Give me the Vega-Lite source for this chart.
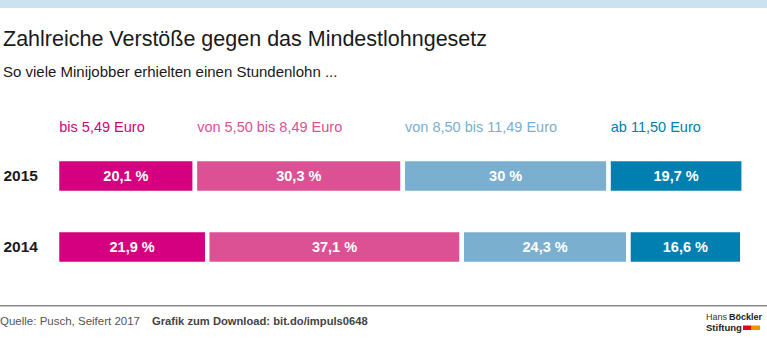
{
  "$schema": "https://vega.github.io/schema/vega-lite/v6.json",
  "width": 767,
  "height": 258,
  "autosize": "none",
  "padding": {"left": 0, "top": 100, "right": 0, "bottom": 0},
  "background": "white",
  "config": {"view": {"stroke": null}, "font": "Liberation Sans"},
  "title": {
    "text": "Zahlreiche Verstöße gegen das Mindestlohngesetz",
    "subtitle": "So viele Minijobber erhielten einen Stundenlohn ...",
    "anchor": "start",
    "frame": "group",
    "dx": 3,
    "offset": -80,
    "font": "Liberation Sans",
    "fontSize": 21.5,
    "fontWeight": "normal",
    "color": "#1a1a1a",
    "subtitleFont": "Liberation Sans",
    "subtitleFontSize": 15,
    "subtitleColor": "#1a1a1a",
    "subtitlePadding": 15
  },
  "datasets": {
    "shares": [
      {"year": "2015", "cat": "bis 5,49 Euro", "order": 1, "value": 20.1, "label": "20,1 %"},
      {"year": "2015", "cat": "von 5,50 bis 8,49 Euro", "order": 2, "value": 30.3, "label": "30,3 %"},
      {"year": "2015", "cat": "von 8,50 bis 11,49 Euro", "order": 3, "value": 30.0, "label": "30 %"},
      {"year": "2015", "cat": "ab 11,50 Euro", "order": 4, "value": 19.7, "label": "19,7 %"},
      {"year": "2014", "cat": "bis 5,49 Euro", "order": 1, "value": 21.9, "label": "21,9 %"},
      {"year": "2014", "cat": "von 5,50 bis 8,49 Euro", "order": 2, "value": 37.1, "label": "37,1 %"},
      {"year": "2014", "cat": "von 8,50 bis 11,49 Euro", "order": 3, "value": 24.3, "label": "24,3 %"},
      {"year": "2014", "cat": "ab 11,50 Euro", "order": 4, "value": 16.6, "label": "16,6 %"}
    ]
  },
  "layer": [
    {
      "data": {"values": [{"band": "top"}]},
      "mark": {"type": "rect", "color": "#c9e4ee", "clip": false},
      "encoding": {
        "x": {"value": 0},
        "x2": {"value": 767},
        "y": {"value": -100},
        "y2": {"value": -92}
      }
    },
    {
      "data": {"name": "shares"},
      "transform": [
        {"stack": "value", "groupby": ["year"], "sort": [{"field": "order", "order": "ascending"}], "as": ["x0", "x1"]}
      ],
      "mark": {"type": "bar", "size": 34, "stroke": "white", "strokeWidth": 4.5},
      "encoding": {
        "x": {"field": "x0", "type": "quantitative", "scale": {"domain": [0, 100], "range": [57, 743], "nice": false, "zero": false}, "axis": null},
        "x2": {"field": "x1"},
        "y": {
          "field": "year", "type": "nominal", "sort": ["2015", "2014"],
          "scale": {"range": [40.5, 182.5], "paddingInner": 0, "paddingOuter": 0},
          "axis": {"orient": "left", "title": null, "domain": false, "ticks": false, "tickSize": 0, "grid": false,
                   "labelAlign": "left", "labelPadding": -3, "labelFont": "Liberation Sans", "labelFontWeight": "bold",
                   "labelFontSize": 15.5, "labelColor": "#1a1a1a", "labelBaseline": "middle"}
        },
        "color": {
          "field": "cat", "type": "nominal",
          "scale": {
            "domain": ["bis 5,49 Euro", "von 5,50 bis 8,49 Euro", "von 8,50 bis 11,49 Euro", "ab 11,50 Euro"],
            "range": ["#d5007f", "#dc5194", "#7aafcf", "#0080b0"]
          },
          "legend": null
        }
      }
    },
    {
      "data": {"name": "shares"},
      "transform": [
        {"filter": "datum.year === '2015'"},
        {"stack": "value", "groupby": ["year"], "sort": [{"field": "order", "order": "ascending"}], "as": ["x0", "x1"]}
      ],
      "mark": {"type": "text", "align": "left", "baseline": "alphabetic", "dx": 2.25, "dy": -44.5, "font": "Liberation Sans", "fontSize": 14.5},
      "encoding": {
        "x": {"field": "x0", "type": "quantitative"},
        "y": {"field": "year", "type": "nominal", "sort": ["2015", "2014"]},
        "text": {"field": "cat"},
        "color": {"field": "cat", "type": "nominal"}
      }
    },
    {
      "data": {"name": "shares"},
      "transform": [
        {"stack": "value", "groupby": ["year"], "sort": [{"field": "order", "order": "ascending"}], "as": ["x0", "x1"]},
        {"fold": ["x0", "x1"], "as": ["edge", "pos"]},
        {"aggregate": [{"op": "mean", "field": "pos", "as": "mid"}], "groupby": ["year", "label"]}
      ],
      "mark": {"type": "text", "align": "center", "baseline": "middle", "dy": 1, "font": "Liberation Sans", "fontWeight": "bold", "fontSize": 14.5, "color": "white"},
      "encoding": {
        "x": {"field": "mid", "type": "quantitative"},
        "y": {"field": "year", "type": "nominal", "sort": ["2015", "2014"]},
        "text": {"field": "label"}
      }
    },
    {
      "data": {"values": [{"line": "footer"}]},
      "mark": {"type": "rule", "color": "#8a8a8a", "strokeWidth": 1.5},
      "encoding": {
        "x": {"value": 0},
        "x2": {"value": 767},
        "y": {"value": 205.7}
      }
    },
    {
      "data": {"values": [{"t": "Quelle: Pusch, Seifert 2017"}]},
      "mark": {"type": "text", "align": "left", "baseline": "alphabetic", "font": "Liberation Sans", "fontSize": 11.5, "color": "#555555"},
      "encoding": {"x": {"value": 0}, "y": {"value": 225}, "text": {"field": "t"}}
    },
    {
      "data": {"values": [{"t": "Grafik zum Download: bit.do/impuls0648"}]},
      "mark": {"type": "text", "align": "left", "baseline": "alphabetic", "font": "Liberation Sans", "fontSize": 11.2, "fontWeight": "bold", "color": "#444444"},
      "encoding": {"x": {"value": 152}, "y": {"value": 225}, "text": {"field": "t"}}
    },
    {
      "data": {"values": [{"t": "Hans"}]},
      "mark": {"type": "text", "align": "left", "baseline": "alphabetic", "font": "Liberation Sans", "fontSize": 9, "color": "#333333"},
      "encoding": {"x": {"value": 706}, "y": {"value": 220}, "text": {"field": "t"}}
    },
    {
      "data": {"values": [{"t": "Böckler"}]},
      "mark": {"type": "text", "align": "left", "baseline": "alphabetic", "font": "Liberation Sans", "fontSize": 9, "fontWeight": "bold", "color": "#222222"},
      "encoding": {"x": {"value": 729}, "y": {"value": 220}, "text": {"field": "t"}}
    },
    {
      "data": {"values": [{"t": "Stiftung"}]},
      "mark": {"type": "text", "align": "left", "baseline": "alphabetic", "font": "Liberation Sans", "fontSize": 9.5, "fontWeight": "bold", "color": "#222222"},
      "encoding": {"x": {"value": 706}, "y": {"value": 231}, "text": {"field": "t"}}
    },
    {
      "data": {"values": [{"b": "red"}]},
      "mark": {"type": "rect", "color": "#e2001a"},
      "encoding": {"x": {"value": 743}, "x2": {"value": 751}, "y": {"value": 225.5}, "y2": {"value": 230}}
    },
    {
      "data": {"values": [{"b": "orange"}]},
      "mark": {"type": "rect", "color": "#f39200"},
      "encoding": {"x": {"value": 751}, "x2": {"value": 760}, "y": {"value": 225.5}, "y2": {"value": 230}}
    }
  ]
}
